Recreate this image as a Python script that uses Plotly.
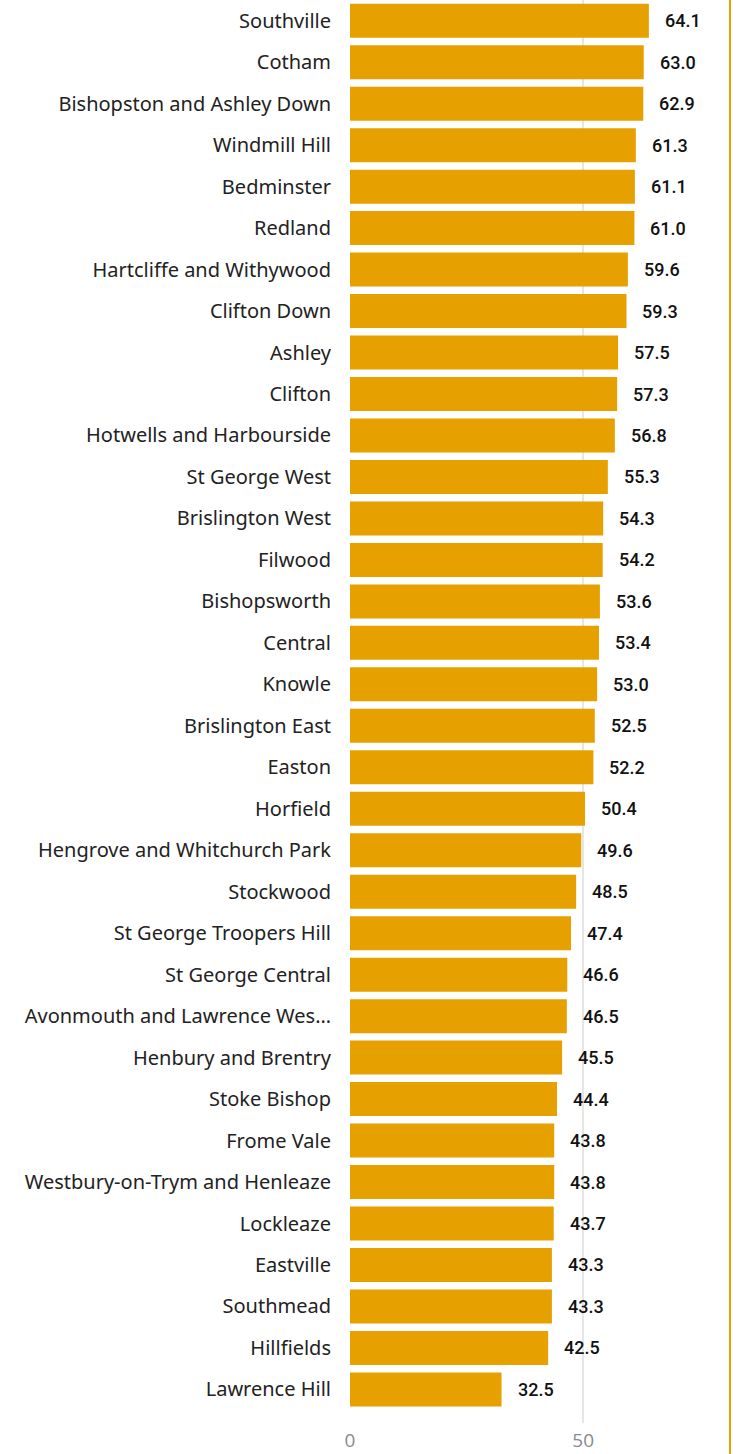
import plotly.graph_objects as go

wards = ["Southville", "Cotham", "Bishopston and Ashley Down", "Windmill Hill", "Bedminster",
         "Redland", "Hartcliffe and Withywood", "Clifton Down", "Ashley", "Clifton",
         "Hotwells and Harbourside", "St George West", "Brislington West", "Filwood",
         "Bishopsworth", "Central", "Knowle", "Brislington East", "Easton", "Horfield",
         "Hengrove and Whitchurch Park", "Stockwood", "St George Troopers Hill",
         "St George Central", "Avonmouth and Lawrence Wes…", "Henbury and Brentry",
         "Stoke Bishop", "Frome Vale", "Westbury-on-Trym and Henleaze", "Lockleaze",
         "Eastville", "Southmead", "Hillfields", "Lawrence Hill"]
values = [64.1, 63.0, 62.9, 61.3, 61.1, 61.0, 59.6, 59.3, 57.5, 57.3, 56.8, 55.3, 54.3, 54.2,
          53.6, 53.4, 53.0, 52.5, 52.2, 50.4, 49.6, 48.5, 47.4, 46.6, 46.5, 45.5, 44.4, 43.8,
          43.8, 43.7, 43.3, 43.3, 42.5, 32.5]
x_ticks = [0, 50]

BAR = "#E6A000"

fig = go.Figure(go.Bar(
    x=values, y=wards, orientation="h",
    marker=dict(color=BAR, line=dict(width=0)),
    hoverinfo="skip",
))

for w, v in zip(wards, values):
    fig.add_annotation(x=v, y=w, text=f"{v:.1f}", showarrow=False, xanchor="left",
                       xshift=14, font=dict(family="Roboto", size=18, color="#111111", weight=500))

fig.add_shape(type="line", xref="paper", yref="paper", x0=1, x1=1, y0=-0.03, y1=1.0,
              line=dict(color=BAR, width=2))

n = len(wards)
fig.update_layout(
    width=737, height=1454,
    margin=dict(l=350, r=7, t=0, b=31),
    paper_bgcolor="white", plot_bgcolor="white",
    bargap=0.18,
    showlegend=False,
    xaxis=dict(range=[0, 81.5], tickvals=x_ticks, showgrid=True, gridcolor="#E6E6E6",
               gridwidth=1.5, zeroline=False, showline=False, ticklabelstandoff=4,
               tickfont=dict(family="Open Sans", size=19, color="#8A8A8A"), ticks=""),
    yaxis=dict(type="category", range=[n - 0.5 + 0.31, -0.5], showgrid=False,
               zeroline=False, showline=False, ticks="", ticklabelstandoff=18,
               tickfont=dict(family="Noto Sans", size=20, color="#222222")),
)

fig.write_html("out.html", config={"displayModeBar": False},
               post_script="document.body.style.margin='0';")
